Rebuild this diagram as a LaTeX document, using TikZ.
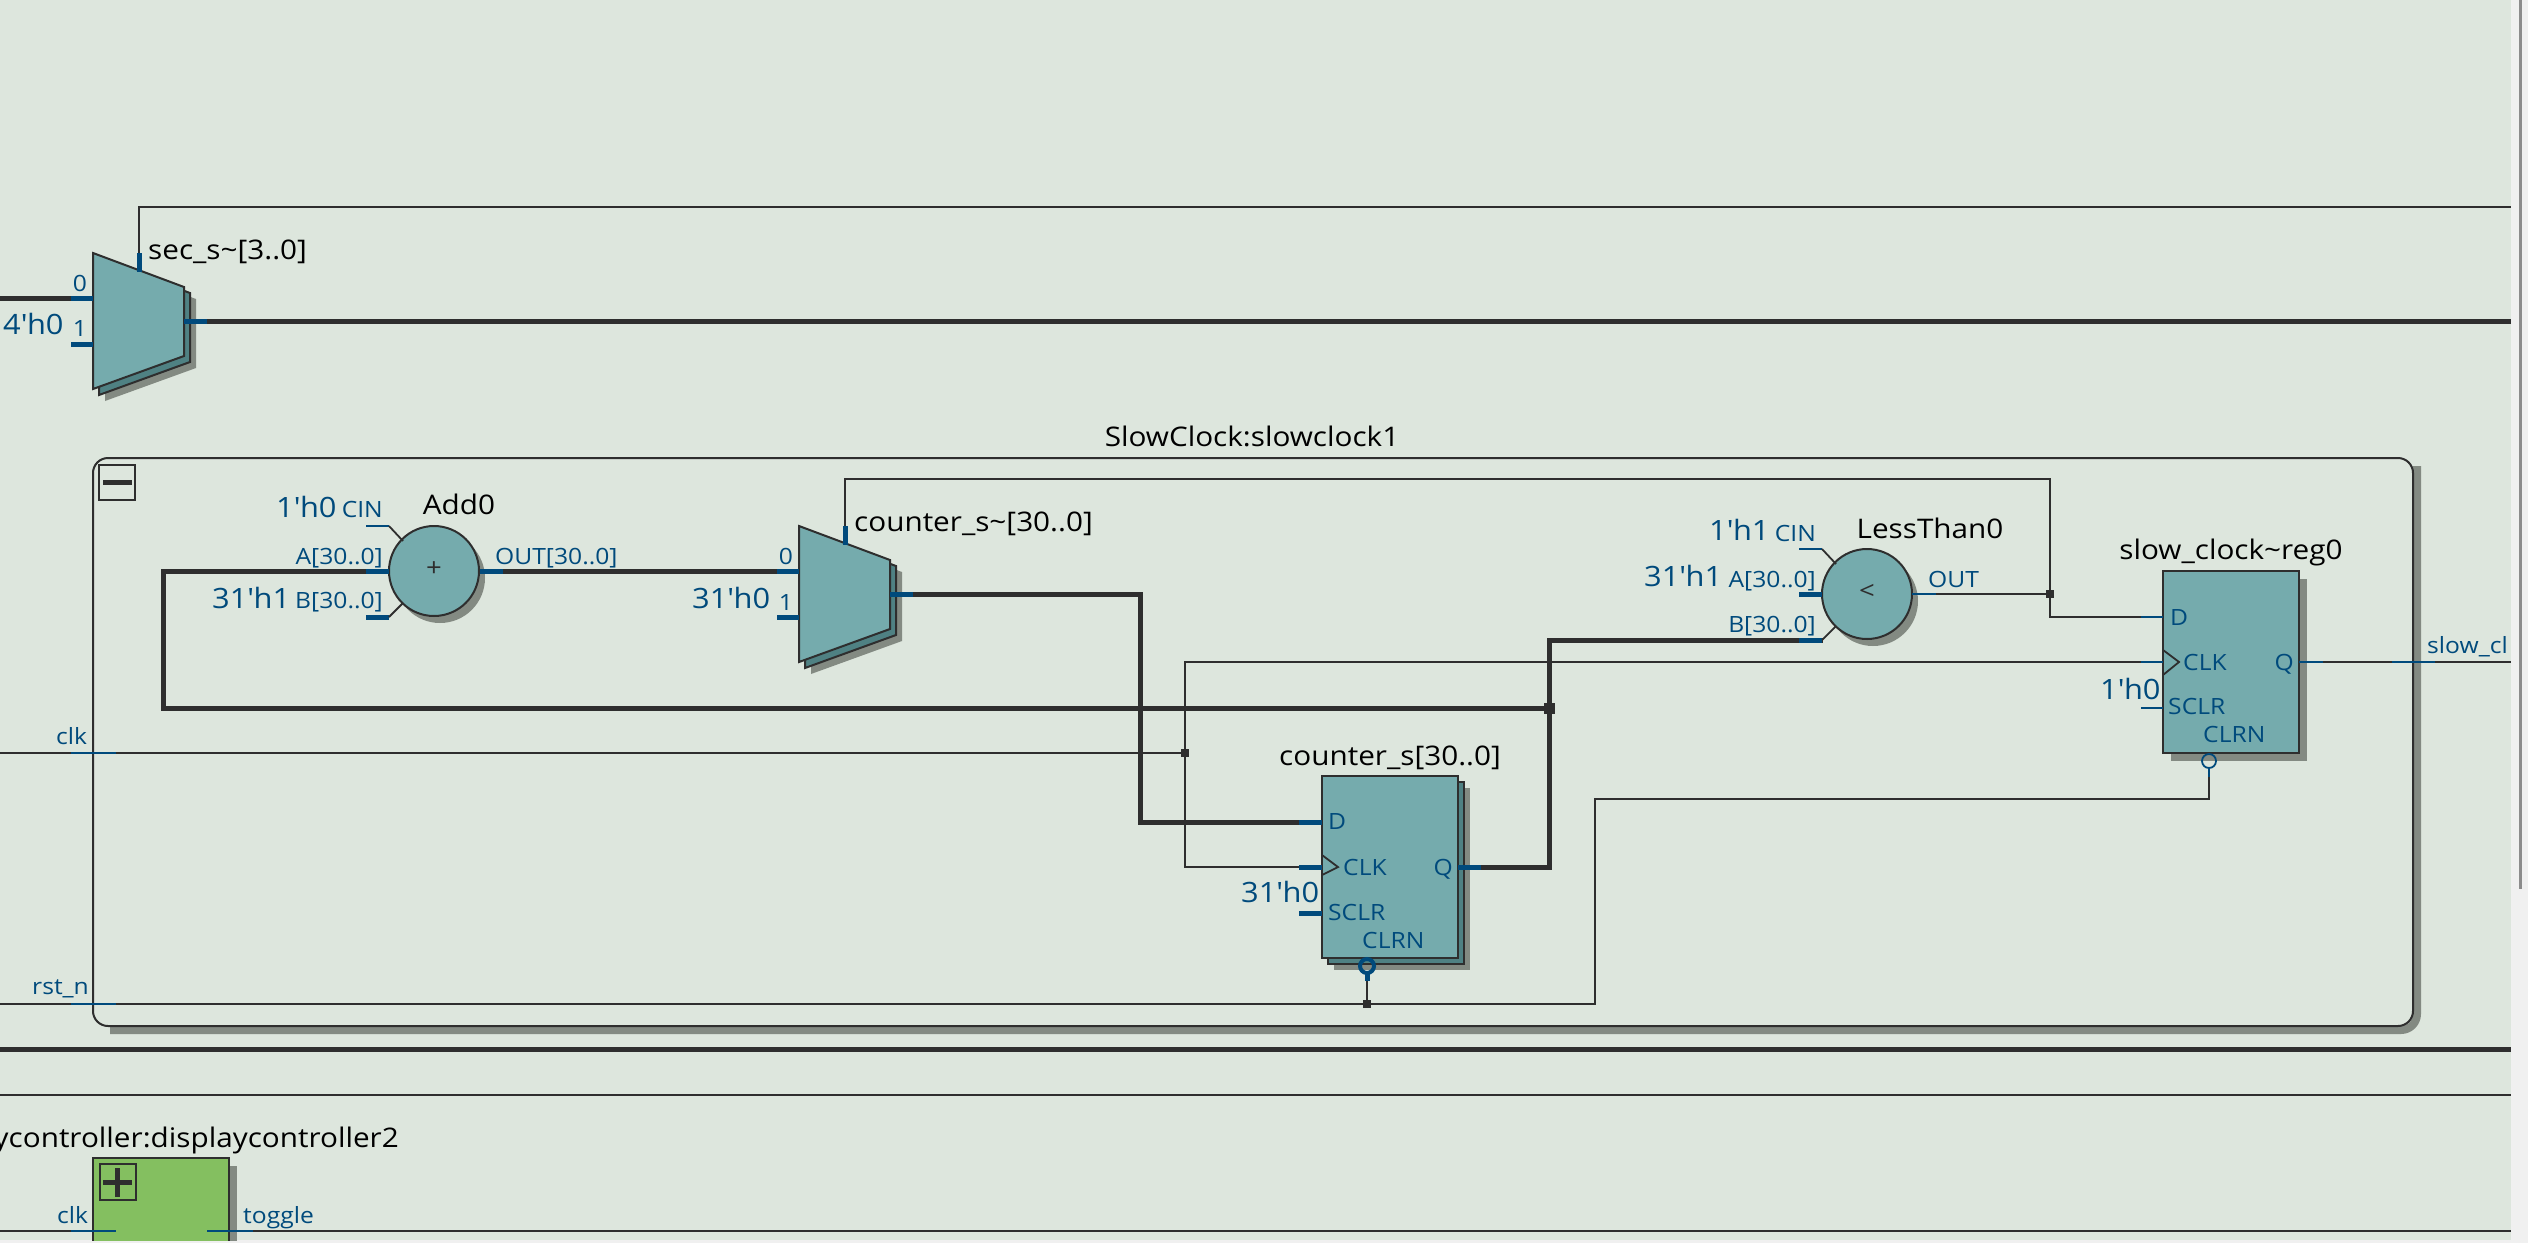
\documentclass[tikz,border=0pt]{standalone}
\usepackage{fontspec}
\setmainfont[FakeStretch=1.1]{Open Sans}
\usetikzlibrary{calc}
\definecolor{bgc}{RGB}{221,230,221}
\definecolor{bandc}{RGB}{240,240,240}
\definecolor{tealc}{RGB}{117,171,173}
\definecolor{stackc}{RGB}{79,129,131}
\definecolor{shadowc}{RGB}{131,138,130}
\definecolor{darkc}{RGB}{46,46,46}
\definecolor{bluec}{RGB}{0,74,124}
\definecolor{greenc}{RGB}{132,191,96}
\definecolor{scrollc}{RGB}{140,140,140}
\newcommand{\qq}{\textquotesingle}
\tikzset{
  x=1pt,y=-1pt,
  wirethin/.style={draw=darkc,line width=1.8pt},
  wirethick/.style={draw=darkc,line width=5pt},
  pinthin/.style={draw=bluec,line width=1.8pt},
  pinthick/.style={draw=bluec,line width=5pt},
  body/.style={draw=darkc,line width=2pt,fill=tealc},
  stackbody/.style={draw=darkc,line width=2pt,fill=stackc},
  shade/.style={fill=shadowc,draw=none},
  reg/.style={body,minimum width=136pt,minimum height=182pt,inner sep=0pt,outer sep=0pt},
  regstack/.style={stackbody,minimum width=136pt,minimum height=182pt,inner sep=0pt,outer sep=0pt},
  regshade/.style={shade,minimum width=136pt,minimum height=182pt,inner sep=0pt,outer sep=0pt},
  op/.style={body,circle,minimum size=90pt,inner sep=0pt,outer sep=0pt},
  opshade/.style={shade,circle,minimum size=90pt,inner sep=0pt,outer sep=0pt},
  junc/.style={fill=darkc,draw=none,minimum size=8pt,inner sep=0pt,outer sep=0pt},
  bigjunc/.style={fill=darkc,draw=none,minimum size=11pt,inner sep=0pt,outer sep=0pt},
  title/.style={inner sep=0pt,yshift=-1pt,text=black,font=\fontsize{27}{30}\selectfont},
  const/.style={inner sep=0pt,yshift=-1pt,text=bluec,font=\fontsize{28}{30}\selectfont},
  plabel/.style={inner sep=0pt,yshift=-1pt,text=bluec,font=\fontsize{22.4}{25}\selectfont},
  bubble/.style={draw=bluec,circle,minimum size=14pt,inner sep=0pt,outer sep=0pt,fill=none},
  ctlbox/.style={draw=darkc,line width=2pt,fill=none,inner sep=0pt,outer sep=0pt},
}
\newcommand{\muxshape}[1]{(#1,#1) -- (91+#1,34+#1) -- (91+#1,103+#1) -- (#1,136+#1) -- cycle}
\newcommand{\muxbody}{%
  \coordinate (in0) at (0,45);
  \coordinate (in0o) at (-22,45);
  \coordinate (in1) at (0,91);
  \coordinate (in1o) at (-22,91);
  \coordinate (out) at (91,68);
  \coordinate (outo) at (114,68);
  \coordinate (sel) at (46,0);
  \coordinate (seli) at (46,19);
  \fill[shadowc] \muxshape{12};
  \draw[stackbody] \muxshape{6};
}
\newcommand{\muxtop}{\draw[body] \muxshape{0};}
\begin{document}
\begin{tikzpicture}
\useasboundingbox (0,0) rectangle (2528,1243);
\fill[bandc] (0,0) rectangle (2528,1243);
\fill[scrollc] (2519,0) rectangle (2521.5,889);
\begin{scope}
\clip (0,0) rectangle (2511,1240);
\fill[bgc] (0,0) rectangle (2511,1240);

% ---- frame
\draw[draw=shadowc,line width=8pt] (2417,466) -- (2417,1014) arc[start angle=0,end angle=90,radius=16] -- (110,1030);
\node[draw=darkc,line width=2pt,minimum width=2320pt,minimum height=568pt,inner sep=0pt,rounded corners=15pt] (frame) at (1253,742) {};
\node[ctlbox,minimum width=36pt,minimum height=35pt] (minusbox) at (117,482.5) {};
\fill[darkc] (103,479.5) rectangle (132,484.5);
\node[title,anchor=base] (frametitle) at (1252,445) {SlowClock:slowclock1};

% ---- free ends and routing points
\coordinate (secleft) at (0,298);
\coordinate (secright) at (2511,321);
\coordinate (sectop) at (2511,207);
\coordinate (clkleft) at (0,753);
\coordinate (rstleft) at (0,1004);
\coordinate (loopTL) at (163,571);
\coordinate (loopBL) at (163,708);
\coordinate (jclk) at (1185,753);
\coordinate (jq) at (1549,708);
\coordinate (jout) at (2050,594);
\coordinate (jrst) at (1367,1004);
\coordinate (rstcorner) at (1595,1004);

% ---- multiplexers (bodies below wires)
\begin{scope}[shift={(93,253)},name prefix=s-]\muxbody\end{scope}
\begin{scope}[shift={(799,526)},name prefix=c-]\muxbody\end{scope}

% ---- registers
\node[regshade] (cshade) at (1402,879) {};
\node[regstack] (cstack) at (1396,873) {};
\node[reg] (creg) at (1390,867) {};
\node[regshade] (sshade) at (2239,670) {};
\node[reg] (sreg) at (2231,662) {};
% ---- operators
\node[opshade] (addshade) at (440,578) {};
\node[op] (add) at (434,571) {};
\node[opshade] (ltshade) at (1873,601) {};
\node[op] (lt) at (1867,594) {};
\node[inner sep=0pt,text=darkc,font=\fontsize{25}{28}\selectfont] (addop) at (434,569) {+};
\node[inner sep=0pt,text=darkc,font=\fontsize{25}{28}\selectfont] (ltop) at (1867,592) {<};

% ---- wires
\draw[wirethick] (secleft) -- (s-in0);
\draw[wirethick] (s-out) -- (secright);
\draw[wirethin] (s-sel) -- (s-sel |- sectop) -- (sectop);
\draw[wirethick,line join=miter] (add.east) -- (c-in0);
\draw[wirethick] (c-out) -- (1140,594) -- (1140,822) -- (1322,822);
\draw[wirethick] (add.west) -- (loopTL) -- (loopBL) -- (jq);
\draw[wirethick] (1458,867) -- (1549,867) -- (1549,640) -- (1823,640);
\draw[wirethin] (c-sel) -- (845,479) -- (2050,479) -- (2050,617) -- (2163,617);
\draw[wirethin] (1912,594) -- (jout);
\draw[wirethin] (clkleft) -- (jclk);
\draw[wirethin] (1322,867) -- (1185,867) -- (1185,662) -- (2163,662);
\draw[wirethin] (rstleft) -- (rstcorner) -- (1595,799) -- (2209,799) -- (2209,768);
\draw[wirethin] (jrst) -- (1367,981);
\draw[wirethin] (2299,662) -- (2511,662);
\node[junc] (jclkn) at (jclk) {};
\node[junc] (joutn) at (jout) {};
\node[junc] (jrstn) at (jrst) {};
\node[bigjunc] (jqn) at (jq) {};

% ---- mux tops
\begin{scope}[shift={(93,253)}]\muxtop\end{scope}
\begin{scope}[shift={(799,526)}]\muxtop\end{scope}

% ---- pins
\draw[pinthick] (s-in0o) -- (s-in0);
\draw[pinthick] (s-in1o) -- (s-in1);
\draw[pinthick] (s-out) -- (s-outo);
\draw[pinthick] (s-sel) -- (s-seli);
\draw[pinthick] (c-in0o) -- (c-in0);
\draw[pinthick] (c-in1o) -- (c-in1);
\draw[pinthick] (c-out) -- (c-outo);
\draw[pinthick] (c-sel) -- (c-seli);
% add
\draw[pinthin] (366,526) -- (389,526);
\draw[wirethin] (389,526) -- (403,541);
\draw[pinthick] (366,571) -- (389,571);
\draw[pinthick] (366,617) -- (389,617);
\draw[wirethin] (389,617) -- (403,603);
\draw[pinthick] (480,571) -- (503,571);
% less than
\draw[pinthin] (1799,549) -- (1822,549);
\draw[wirethin] (1822,549) -- (1836,564);
\draw[pinthick] (1799,594) -- (1822,594);
\draw[pinthick] (1799,640) -- (1822,640);
\draw[wirethin] (1822,640) -- (1836,626);
\draw[pinthin] (1912,594) -- (1936,594);
% counter reg
\draw[pinthick] (1299,822) -- (1322,822);
\draw[pinthick] (1299,867) -- (1322,867);
\draw[pinthick] (1299,913) -- (1322,913);
\draw[pinthick] (1458,867) -- (1481,867);
\draw[darkc,line width=1.8pt] (1322,855) -- (1338,867) -- (1322,875);
\node[bubble,line width=4pt] (cbub) at (1367,966) {};
\draw[pinthick] (cbub.south) -- (1367,981);
% slow reg
\draw[pinthin] (2141,617) -- (2163,617);
\draw[pinthin] (2141,662) -- (2163,662);
\draw[pinthin] (2141,708) -- (2163,708);
\draw[pinthin] (2299,662) -- (2323,662);
\draw[pinthin] (2392,662) -- (2435,662);
\draw[darkc,line width=1.8pt] (2163,650) -- (2179,662) -- (2163,675);
\node[bubble,line width=1.8pt] (sbub) at (2209,761) {};
\draw[pinthin] (sbub.south) -- (2209,777);
% frame crossings
\draw[pinthin] (71,753) -- (116,753);
\draw[pinthin] (71,1004) -- (116,1004);

% ---- bottom wires and block
\coordinate (thickL) at (0,1049.5);
\coordinate (thickR) at (2511,1049.5);
\coordinate (thinL) at (0,1095);
\coordinate (thinR) at (2511,1095);
\draw[wirethick] (thickL) -- (thickR);
\draw[wirethin] (thinL) -- (thinR);
\fill[shadowc] (101,1166) rectangle (237,1250);
\node[draw=darkc,line width=2pt,fill=greenc,minimum width=136pt,minimum height=120pt,inner sep=0pt,outer sep=0pt] (dc) at (161,1218) {};
\node[ctlbox,minimum width=36pt,minimum height=36pt] (plusbox) at (117.5,1182) {};
\fill[darkc] (103,1179.5) rectangle (132,1184.5);
\fill[darkc] (114.5,1168) rectangle (119.5,1197);
\coordinate (dcL) at (0,1231);
\coordinate (dcR) at (2511,1231);
\draw[wirethin] (dcL) -- (71,1231);
\draw[wirethin] (253,1231) -- (dcR);
\draw[pinthin] (71,1231) -- (116,1231);
\draw[pinthin] (207,1231) -- (253,1231);

% ---- text
\node[title,anchor=base west] (t1) at (148,258) {sec\_s\textasciitilde[3..0]};
\node[const,anchor=base west] (t2) at (3,333) {4\qq h0};
\node[plabel,anchor=base] (t3) at (80,290) {0};
\node[plabel,anchor=base] (t4) at (80,335) {1};

\node[const,anchor=base west] (t5) at (276,516) {1\qq h0};
\node[plabel,anchor=base east] (t6) at (383,516) {CIN};
\node[title,anchor=base] (t7) at (459,513) {Add0};
\node[plabel,anchor=base east] (t8) at (383,563) {A[30..0]};
\node[plabel,anchor=base east] (t9) at (383,607) {B[30..0]};
\node[const,anchor=base west] (t10) at (212,607) {31\qq h1};
\node[plabel,anchor=base west] (t11) at (495,563) {OUT[30..0]};
\node[plabel,anchor=base] (t12) at (786,563) {0};
\node[plabel,anchor=base] (t13) at (786,609) {1};
\node[const,anchor=base west] (t14) at (692,607) {31\qq h0};
\node[title,anchor=base west] (t15) at (854,530) {counter\_s\textasciitilde[30..0]};

\node[plabel,anchor=base west] (t16) at (56,743) {clk};
\node[plabel,anchor=base west] (t17) at (32,993) {rst\_n};

\node[const,anchor=base west] (t18) at (1709,539) {1\qq h1};
\node[plabel,anchor=base east] (t19) at (1816,540) {CIN};
\node[title,anchor=base] (t20) at (1930,537) {LessThan0};
\node[const,anchor=base west] (t21) at (1644,585) {31\qq h1};
\node[plabel,anchor=base east] (t22) at (1816,586) {A[30..0]};
\node[plabel,anchor=base east] (t23) at (1816,631) {B[30..0]};
\node[plabel,anchor=base west] (t24) at (1928,586) {OUT};
\node[title,anchor=base] (t25) at (2231,558) {slow\_clock\textasciitilde reg0};
\node[plabel,anchor=base west] (t26) at (2170,624) {D};
\node[plabel,anchor=base west] (t27) at (2183,669) {CLK};
\node[plabel,anchor=base east] (t28) at (2294,669) {Q};
\node[const,anchor=base west] (t29) at (2100,698) {1\qq h0};
\node[plabel,anchor=base west] (t30) at (2168,713) {SCLR};
\node[plabel,anchor=base west] (t31) at (2203,741) {CLRN};
\node[plabel,anchor=base west] (t32) at (2427,652) {slow\_cl};

\node[title,anchor=base] (t33) at (1390,764) {counter\_s[30..0]};
\node[plabel,anchor=base west] (t34) at (1328,828) {D};
\node[plabel,anchor=base west] (t35) at (1343,874) {CLK};
\node[plabel,anchor=base east] (t36) at (1453,874) {Q};
\node[const,anchor=base west] (t37) at (1241,901) {31\qq h0};
\node[plabel,anchor=base west] (t38) at (1328,919) {SCLR};
\node[plabel,anchor=base west] (t39) at (1362,947) {CLRN};

\node[title,anchor=base east] (t40) at (399,1146) {ycontroller:displaycontroller2};
\node[plabel,anchor=base west] (t41) at (57,1222) {clk};
\node[plabel,anchor=base west] (t42) at (243,1222) {toggle};
\end{scope}
\end{tikzpicture}
\end{document}
